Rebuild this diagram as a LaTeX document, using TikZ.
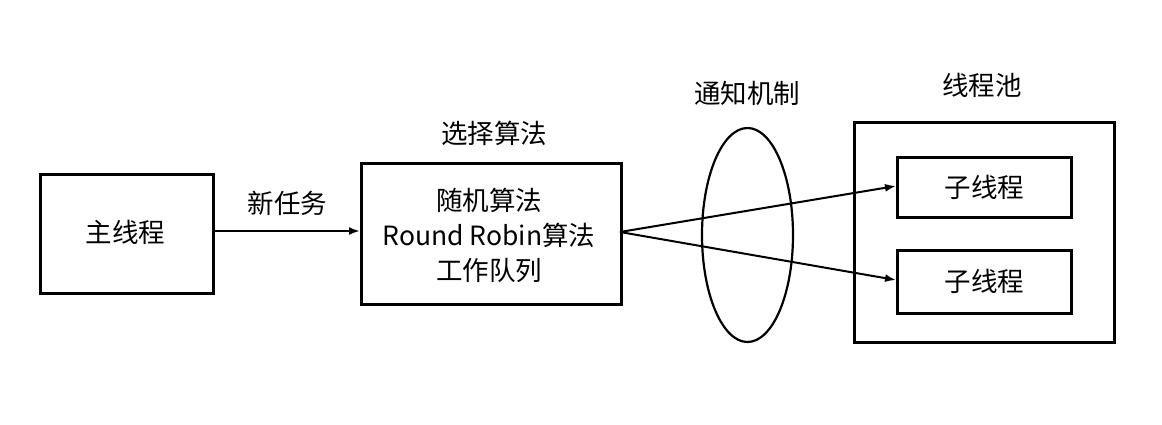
\documentclass[tikz,border=0pt]{standalone}
\usepackage{fontspec}
\setmainfont{Noto Sans CJK SC}
\usetikzlibrary{arrows.meta}
\begin{document}
\begin{tikzpicture}[x=1pt,y=-1pt,
  box/.style={draw,line width=2.6pt,inner sep=0pt,anchor=north west},
  lbl/.style={font=\fontsize{26.5}{35}\selectfont,inner sep=0pt},
  conn/.style={line width=2pt,-{Latex[length=11pt,width=8pt]}}]
\useasboundingbox (0,0) rectangle (1162,425);
% boxes
\node[box,minimum width=173pt,minimum height=119pt] (main) at (39,173) {};
\node[lbl] (maint) at (125.5,232.5) {主线程};
\node[box,minimum width=260pt,minimum height=141pt] (sel) at (360,162) {};
\node[lbl,align=center] (selt) at (489,235) {随机算法\\Round Robin算法\\工作队列};
\node[lbl] (sellbl) at (494,133) {选择算法};
\draw[line width=2.2pt] (747.5,235) ellipse [x radius=45.5, y radius=107];
\node[lbl] (notif) at (747,93) {通知机制};
\node[box,minimum width=260pt,minimum height=220pt] (pool) at (853,121) {};
\node[lbl] (poollbl) at (982,85) {线程池};
\node[box,minimum width=174pt,minimum height=60pt] (sub1) at (896,156) {};
\node[lbl] at (sub1.center) {子线程};
\node[box,minimum width=174pt,minimum height=63pt] (sub2) at (896,249) {};
\node[lbl] at (sub2.center) {子线程};
% connectors
\draw[conn] (main.east |- 0,231) -- (sel.west |- 0,231) node[midway,lbl,above=14pt] (newtask) {新任务};
\coordinate (src) at (620,232);
\draw[conn] (src) -- (sub1.west |- 0,186);
\draw[conn] (src) -- (sub2.west |- 0,280);
\end{tikzpicture}
\end{document}
